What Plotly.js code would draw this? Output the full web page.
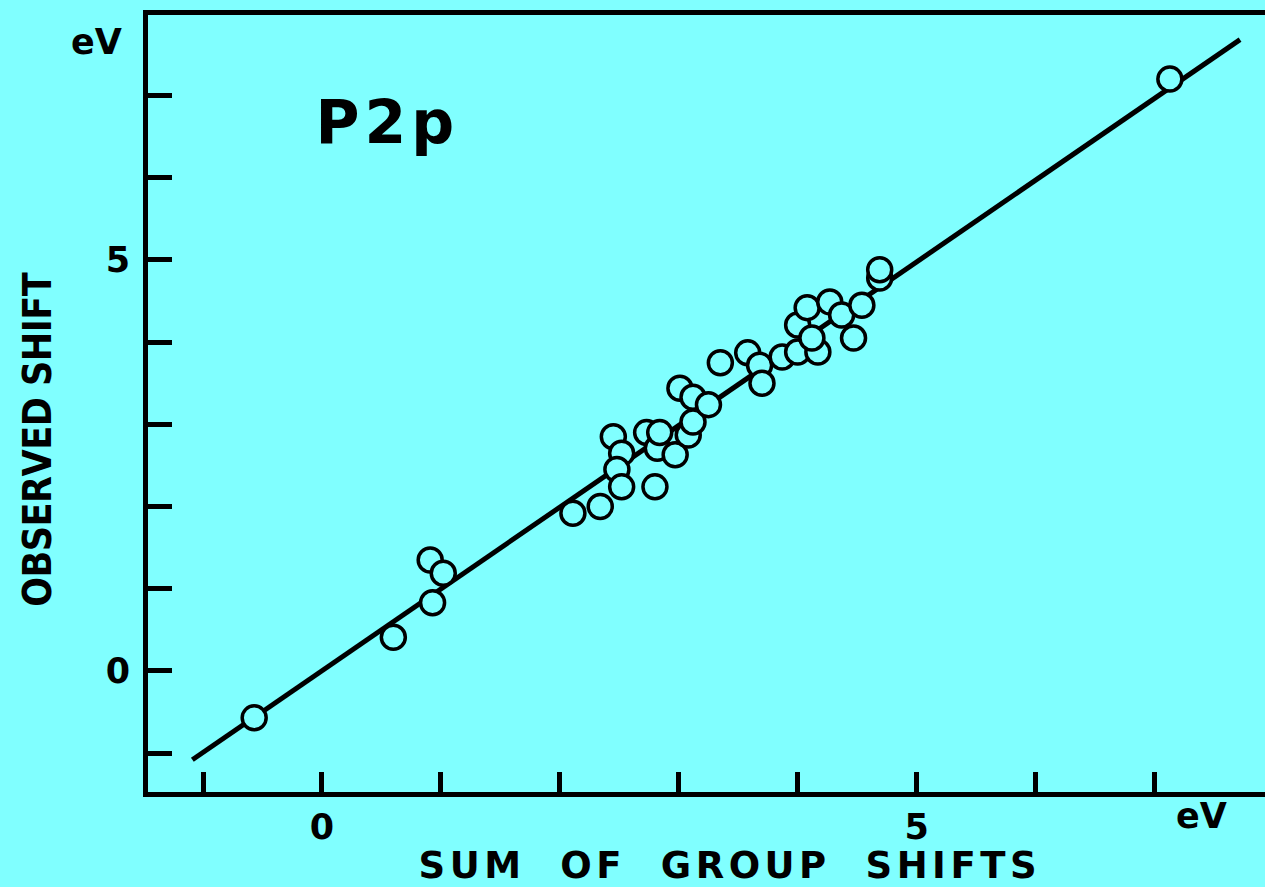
<!DOCTYPE html>
<html>
<head>
<meta charset="utf-8">
<script src="https://cdn.plot.ly/plotly-3.0.1.min.js"></script>
<style>
html,body{margin:0;padding:0;background:#80ffff;}
#chart{width:1265px;height:887px;}
g.annotation[data-index="0"] text{letter-spacing:5px;}
g.annotation[data-index="3"] text{letter-spacing:4.5px;}
g.annotation[data-index="4"] text{letter-spacing:-0.5px;}
</style>
</head>
<body>
<div id="chart"></div>
<script>
// Data (eV)
const sumGroupShifts = [-0.57, 0.60, 0.93, 0.91, 1.02, 2.11, 2.34, 2.45, 2.52, 2.48, 2.52, 2.80, 2.73, 2.82, 2.97, 2.84, 3.08, 3.12, 3.01, 3.12, 3.25, 3.35, 3.58, 3.68, 3.70, 3.87, 4.00, 4.17, 4.00, 4.08, 4.12, 4.27, 4.37, 4.47, 4.54, 4.69, 4.69, 7.13];
const observedShift = [-0.57, 0.41, 0.83, 1.35, 1.19, 1.92, 2.00, 2.85, 2.65, 2.45, 2.24, 2.24, 2.90, 2.71, 2.63, 2.90, 2.87, 3.03, 3.44, 3.33, 3.24, 3.75, 3.87, 3.72, 3.50, 3.82, 3.88, 3.88, 4.21, 4.42, 4.05, 4.49, 4.33, 4.05, 4.45, 4.78, 4.88, 7.20];
const fitLineX = [-1.09, 7.72];
const fitLineY = [-1.08, 7.68];
const xTickVals = [-1, 0, 1, 2, 3, 4, 5, 6, 7];
const xTickText = ['', '0', '', '', '', '', '5', '', ''];
const yTickVals = [-1, 0, 1, 2, 3, 4, 5, 6, 7];
const yTickText = ['', '0', '', '', '', '', '5', '', ''];
const panelLabel = 'P2p';
const xTitle = 'SUM  OF  GROUP  SHIFTS';
const yTitle = 'OBSERVED SHIFT';
const unitLabel = 'eV';

const bg = 'rgb(128,255,255)';
const ink = '#000000';
const tickFont = {family: 'DejaVu Sans', size: 35, color: ink, weight: 'bold'};

const traces = [
  {
    x: fitLineX, y: fitLineY, mode: 'lines', type: 'scatter',
    line: {color: ink, width: 5}, hoverinfo: 'skip', showlegend: false
  },
  {
    x: sumGroupShifts, y: observedShift, mode: 'markers', type: 'scatter',
    marker: {symbol: 'circle', size: 24, color: bg, line: {color: ink, width: 3.5}},
    showlegend: false
  }
];

const layout = {
  width: 1265, height: 887,
  paper_bgcolor: bg, plot_bgcolor: bg,
  margin: {l: 148, r: 0, t: 15, b: 95},
  showlegend: false,
  xaxis: {
    range: [-1.463, 7.93], showgrid: false, zeroline: false,
    showline: true, linecolor: ink, linewidth: 5, mirror: true,
    ticks: 'inside', ticklen: 20, tickwidth: 5, tickcolor: ink,
    tickvals: xTickVals, ticktext: xTickText, tickfont: tickFont,
    ticklabelstandoff: 0
  },
  yaxis: {
    range: [-1.472, 7.98], showgrid: false, zeroline: false,
    showline: true, linecolor: ink, linewidth: 5, mirror: false,
    ticks: 'inside', ticklen: 24, tickwidth: 5, tickcolor: ink,
    tickvals: yTickVals, ticktext: yTickText, tickfont: tickFont,
    ticklabelstandoff: 6
  },
  annotations: [
    {x: 0.214, y: 0.862, xref: 'paper', yref: 'paper', text: panelLabel, showarrow: false,
     xanchor: 'center', yanchor: 'middle', font: {family: 'DejaVu Sans', size: 60, color: ink, weight: 'bold'}},
    {x: 7.4, y: 0, xref: 'x', yref: 'paper', yshift: -24, text: unitLabel, showarrow: false,
     xanchor: 'center', yanchor: 'middle', font: tickFont},
    {x: 0, y: 7.65, xref: 'paper', yref: 'y', xshift: -52, text: unitLabel, showarrow: false,
     xanchor: 'center', yanchor: 'middle', font: tickFont},
    {x: 0.521, y: -0.095, xref: 'paper', yref: 'paper', text: xTitle, showarrow: false,
     xanchor: 'center', yanchor: 'middle', font: {family: 'DejaVu Sans', size: 37, color: ink, weight: 'bold'}},
    {x: -0.0994, y: 0.454, xref: 'paper', yref: 'paper', text: yTitle, showarrow: false, textangle: -90,
     xanchor: 'center', yanchor: 'middle', font: {family: 'DejaVu Sans Condensed, DejaVu Sans', size: 39, color: ink, weight: 'bold'}}
  ]
};

Plotly.newPlot('chart', traces, layout, {displayModeBar: false, staticPlot: true});
</script>
</body>
</html>
